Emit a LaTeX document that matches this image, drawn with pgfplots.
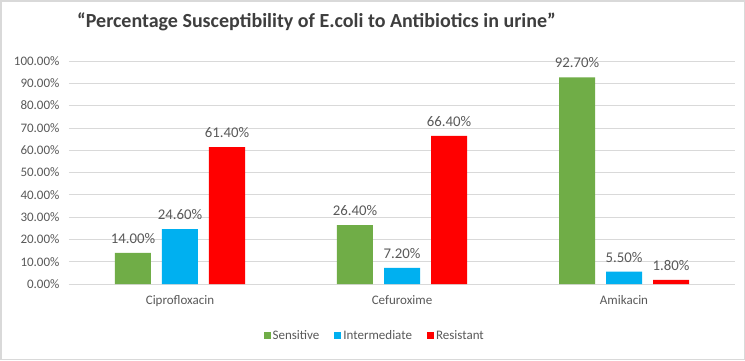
\documentclass[border=0pt]{standalone}
\usepackage{fontspec}
\setmainfont{Carlito}
\usepackage{pgfplots}
\pgfplotsset{compat=1.18}
\definecolor{sgreen}{HTML}{70AD47}
\definecolor{icyan}{HTML}{00B0F0}
\definecolor{rred}{HTML}{FF0000}
\definecolor{txtgray}{HTML}{595959}
\definecolor{gridgray}{HTML}{D9D9D9}
\begin{document}
\begin{tikzpicture}[x=1pt,y=1pt]
\fill[white] (0,0) rectangle (745,360);
\draw[gridgray, line width=1.5pt] (0.75,0.75) rectangle (744.25,359.25);
\node[anchor=west, font=\bfseries\fontsize{20}{24}\selectfont, text=txtgray!70!black, inner sep=0pt] at (77,338) {“Percentage Susceptibility of E.coli to Antibiotics in urine”};
\begin{axis}[
  at={(69pt,76pt)}, anchor=south west,
  scale only axis, width=666pt, height=223pt,
  ybar=11pt, bar width=36pt,
  xmin=-0.5, xmax=2.5, ymin=0, ymax=100,
  xtick={0,1,2},
  xticklabels={Ciprofloxacin,Cefuroxime,Amikacin},
  ytick={0,10,...,100},
  yticklabels={0.00\%,10.00\%,20.00\%,30.00\%,40.00\%,50.00\%,60.00\%,70.00\%,80.00\%,90.00\%,100.00\%},
  major tick length=0pt,
  tick style={draw=none},
  axis lines*=left,
  y axis line style={draw=none},
  x axis line style={draw=gridgray, line width=0.8pt, -},
  ymajorgrids, grid style={gridgray, line width=0.8pt},
  tick label style={font=\fontsize{13}{15}\selectfont, text=txtgray},
  yticklabel style={xshift=-6pt},
  xticklabel style={yshift=-8pt},
  /pgf/number format/assume math mode=true,
  nodes near coords={\pgfmathprintnumber[fixed,fixed zerofill,precision=2]{\pgfplotspointmeta}\%},
  every node near coord/.append style={font=\fontsize{14.8}{17}\selectfont, text=txtgray, yshift=6pt},
  legend style={at={(0.459,-0.233)}, anchor=center, draw=none, legend columns=3,
    font=\fontsize{13}{15}\selectfont, text=txtgray,
    /tikz/every even column/.append style={column sep=13pt}},
  legend image code/.code={\fill[#1] (0pt,-3.5pt) rectangle (7pt,3.5pt);},
]
\addplot[fill=sgreen, draw=none] coordinates {(0,14.0) (1,26.4) (2,92.7)};
\addplot[fill=icyan, draw=none] coordinates {(0,24.6) (1,7.2) (2,5.5)};
\addplot[fill=rred, draw=none] coordinates {(0,61.4) (1,66.4) (2,1.8)};
\legend{Sensitive,Intermediate,Resistant}
\end{axis}
\end{tikzpicture}
\end{document}
